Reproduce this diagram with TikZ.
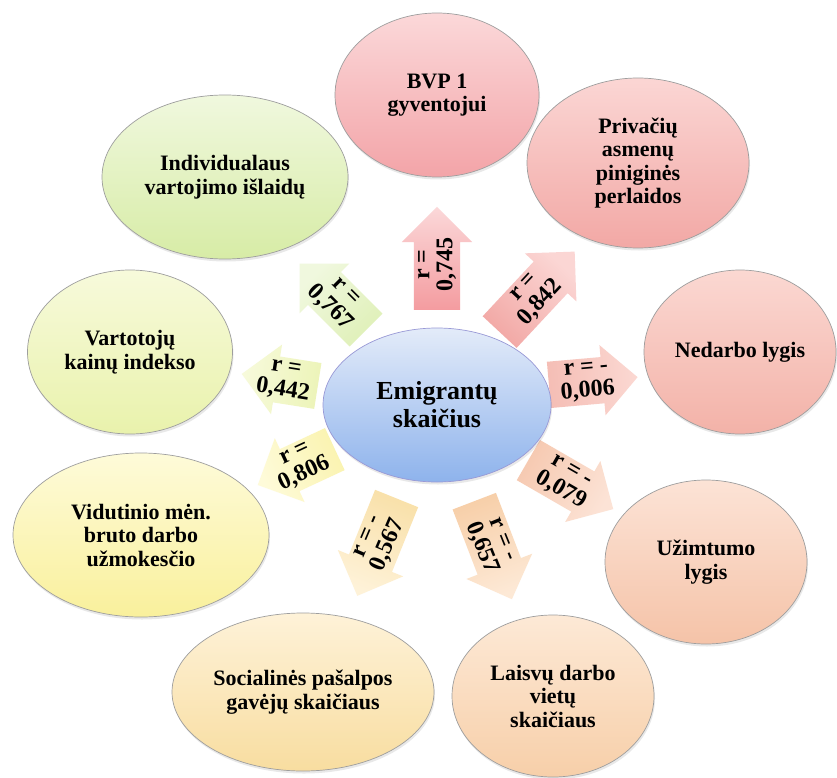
\documentclass[tikz,border=0pt]{standalone}
\usepackage{fontspec}
\setmainfont{Liberation Serif}
\usetikzlibrary{shapes.geometric,shapes.arrows,shadows,calc}
\definecolor{bvpT}{HTML}{FBD8D9}\definecolor{bvpB}{HTML}{F3A4A8}
\definecolor{prvT}{HTML}{FBD6D4}\definecolor{prvB}{HTML}{F2A8A5}
\definecolor{nedT}{HTML}{FBD8D2}\definecolor{nedB}{HTML}{F3B2A8}
\definecolor{uzmT}{HTML}{FCE3D6}\definecolor{uzmB}{HTML}{F5C3A8}
\definecolor{laiT}{HTML}{FDE9D6}\definecolor{laiB}{HTML}{F7CFA9}
\definecolor{socT}{HTML}{FEF2D8}\definecolor{socB}{HTML}{F8DDA0}
\definecolor{vidT}{HTML}{FEFBD9}\definecolor{vidB}{HTML}{F9F09C}
\definecolor{vrtT}{HTML}{F7FADB}\definecolor{vrtB}{HTML}{E9F2AC}
\definecolor{indT}{HTML}{F0F8DE}\definecolor{indB}{HTML}{D7ECA6}
\definecolor{emiT}{HTML}{E3EBF9}\definecolor{emiB}{HTML}{8EB3EC}
\begin{document}
\begin{tikzpicture}[x=1pt,y=-1pt,
  oval/.style={ellipse, draw=black!38, line width=0.7pt, inner sep=0pt, align=center,
    font=\fontsize{22}{23.5}\selectfont\bfseries,
    drop shadow={opacity=0.18, shadow xshift=1pt, shadow yshift=-2.5pt}},
  blockarrow/.style={single arrow, draw=none, inner xsep=0pt, inner ysep=23pt,
    single arrow head extend=12pt, anchor=tail},
  rlabel/.style={align=center, font=\fontsize{24}{23}\selectfont\bfseries, inner sep=0pt}]
\useasboundingbox[fill=white] (0,0) rectangle (837,778);

% outer ellipses
\node[oval, minimum width=204pt, minimum height=164pt, top color=bvpT, bottom color=bvpB] (bvp) at (437,95) {BVP 1\\gyventojui};
\node[oval, minimum width=222pt, minimum height=170pt, top color=prvT, bottom color=prvB] (prv) at (638,163) {Privačių\\asmenų\\piniginės\\perlaidos};
\node[oval, minimum width=192pt, minimum height=164pt, top color=nedT, bottom color=nedB] (ned) at (740,352) {Nedarbo lygis};
\node[oval, minimum width=202pt, minimum height=164pt, top color=uzmT, bottom color=uzmB] (uzm) at (706,562) {Užimtumo\\lygis};
\node[oval, minimum width=202pt, minimum height=162pt, top color=laiT, bottom color=laiB] (lai) at (553,696) {Laisvų darbo\\vietų\\skaičiaus};
\node[oval, minimum width=262pt, minimum height=158pt, top color=socT, bottom color=socB] (soc) at (303,692) {Socialinės pašalpos\\gavėjų skaičiaus};
\node[oval, minimum width=256pt, minimum height=164pt, top color=vidT, bottom color=vidB] (vid) at (141,535) {Vidutinio mėn.\\bruto darbo\\užmokesčio};
\node[oval, minimum width=205pt, minimum height=164pt, top color=vrtT, bottom color=vrtB] (vrt) at (130,352) {Vartotojų\\kainų indekso};
\node[oval, minimum width=246pt, minimum height=164pt, top color=indT, bottom color=indB] (ind) at (225,177) {Individualaus\\vartojimo išlaidų};

% block arrows (placed by their tail)
\node[blockarrow, minimum height=103pt, rotate=90, top color=bvpT, bottom color=bvpB!95!red, shading angle=0] (a1) at (437,310) {};
\node[blockarrow, minimum height=110pt, rotate=47, top color=prvT, bottom color=prvB, shading angle=-43] (a2) at (499.5,332.2) {};
\node[blockarrow, minimum height=89pt, rotate=5, top color=nedT, bottom color=nedB!85, shading angle=-85] (a3) at (548.7,384.9) {};
\node[blockarrow, minimum height=98pt, rotate=-30, top color=uzmT, bottom color=uzmB!90, shading angle=-120] (a4) at (528.2,460) {};
\node[blockarrow, minimum height=105pt, rotate=-69, top color=laiT, bottom color=laiB, shading angle=-159] (a5) at (474.2,501) {};
\node[blockarrow, minimum height=105pt, rotate=-112, top color=socT, bottom color=socB!90, shading angle=158] (a6) at (396.7,498.3) {};
\node[blockarrow, minimum height=85pt, rotate=-155, top color=vidT, bottom color=vidB!80, shading angle=115] (a7) at (335,449) {};
\node[blockarrow, minimum height=77pt, rotate=171, top color=vrtT, bottom color=vrtB!85, shading angle=81] (a8) at (318,386) {};
\node[blockarrow, minimum height=94pt, rotate=135, top color=indT, bottom color=indB!80, shading angle=45] (a9) at (366.2,330.2) {};

% centre
\node[oval, minimum width=228pt, minimum height=154pt, top color=emiT, bottom color=emiB, draw=black!40!blue!40,
  font=\fontsize{26}{28}\selectfont\bfseries] (emi) at (437,405) {Emigrantų\\skaičius};

% labels
\node[rlabel, rotate=90]  (l1) at ($(a1.tail)!0.44!(a1.tip)$) {r =\\0,745};
\node[rlabel, rotate=47]  (l2) at ($(a2.tail)!0.45!(a2.tip)$) {r =\\0,842};
\node[rlabel, rotate=5]   (l3) at ($(a3.tail)!0.43!(a3.tip)$) {r = -\\0,006};
\node[rlabel, rotate=-30] (l4) at ($(a4.tail)!0.44!(a4.tip)$) {r = -\\0,079};
\node[rlabel, rotate=-68] (l5) at ($(a5.tail)!0.44!(a5.tip)$) {r = -\\0,657};
\node[rlabel, rotate=67]  (l6) at ($(a6.tail)!0.44!(a6.tip)$) {r = -\\0,567};
\node[rlabel, rotate=25]  (l7) at ($(a7.tail)!0.45!(a7.tip)$) {r =\\0,806};
\node[rlabel, rotate=-9]  (l8) at ($(a8.tail)!0.44!(a8.tip)$) {r =\\0,442};
\node[rlabel, rotate=-45] (l9) at ($(a9.tail)!0.44!(a9.tip)$) {r =\\0,767};
\end{tikzpicture}
\end{document}
